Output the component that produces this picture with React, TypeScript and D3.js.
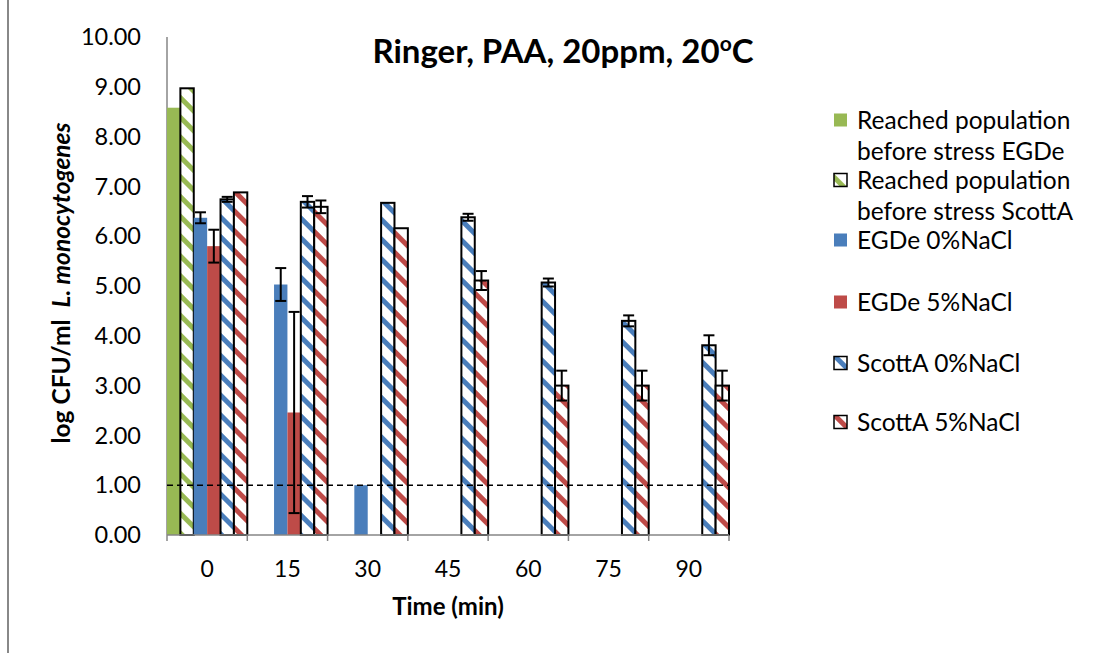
import React from "react";
import * as d3 from "d3";

const categories = ["0", "15", "30", "45", "60", "75", "90"];
const seriesNames = [
  "Reached population before stress EGDe",
  "Reached population before stress ScottA",
  "EGDe 0%NaCl",
  "EGDe 5%NaCl",
  "ScottA 0%NaCl",
  "ScottA 5%NaCl",
];
const egdeReached = [8.58, null, null, null, null, null, null];
const scottReached = [8.97, null, null, null, null, null, null];
const egde0 = [6.37, 5.03, 1.0, null, null, null, null];
const egde0Err = [0.11, 0.33, 0, 0, 0, 0, 0];
const egde5 = [5.8, 2.46, null, null, null, null, null];
const egde5Err = [0.33, 2.02, 0, 0, 0, 0, 0];
const scott0 = [6.74, 6.69, 6.67, 6.38, 5.07, 4.3, 3.81];
const scott0Err = [0.05, 0.115, 0, 0.07, 0.08, 0.11, 0.2];
const scott5 = [6.88, 6.59, 6.16, 5.11, 3.0, 3.0, 3.0];
const scott5Err = [0, 0.127, 0, 0.19, 0.3, 0.3, 0.3];
const yTicks = [0, 1, 2, 3, 4, 5, 6, 7, 8, 9, 10];
const detectionLimit = 1.0;

const GREEN = "#98B954";
const BLUE = "#4A7EBB";
const RED = "#BE4B48";

type Series = { name: string; values: (number | null)[]; err: number[]; color: string; hatched: boolean };
const series: Series[] = [
  { name: seriesNames[0], values: egdeReached, err: [0, 0, 0, 0, 0, 0, 0], color: GREEN, hatched: false },
  { name: seriesNames[1], values: scottReached, err: [0, 0, 0, 0, 0, 0, 0], color: GREEN, hatched: true },
  { name: seriesNames[2], values: egde0, err: egde0Err, color: BLUE, hatched: false },
  { name: seriesNames[3], values: egde5, err: egde5Err, color: RED, hatched: false },
  { name: seriesNames[4], values: scott0, err: scott0Err, color: BLUE, hatched: true },
  { name: seriesNames[5], values: scott5, err: scott5Err, color: RED, hatched: true },
];

const FONT = "Lato, 'Open Sans', sans-serif";

export default function App() {
  const W = 1105, H = 653;
  const x0 = 167, x1 = 729, yBottom = 535, yTop = 37;
  const x = d3.scaleBand<string>().domain(categories).range([x0, x1]).paddingInner(0).paddingOuter(0);
  const xs = d3.scaleBand<number>().domain(d3.range(series.length)).range([0, x.bandwidth()]).padding(0);
  const y = d3.scaleLinear().domain([0, 10]).range([yBottom, yTop]);
  const bw = xs.bandwidth();
  const tickEdges = [...categories.map((c) => x(c) as number), x1];

  const legendMarkerX = 834;
  const legendTextX = 857;
  const legendRows: { lines: string[]; y: number }[] = [
    { lines: ["Reached population", "before stress EGDe"], y: 120 },
    { lines: ["Reached population", "before stress ScottA"], y: 180 },
    { lines: ["EGDe 0%NaCl"], y: 240 },
    { lines: ["EGDe 5%NaCl"], y: 302 },
    { lines: ["ScottA 0%NaCl"], y: 363 },
    { lines: ["ScottA 5%NaCl"], y: 422 },
  ];

  const patId = (c: string) => "hatch-" + c.replace("#", "");
  const P = 14;

  return (
    <svg width={W} height={H} style={{ position: "absolute", left: 0, top: 0, background: "#fff" }}>
      <defs>
        {[GREEN, BLUE, RED].map((c) => (
          <pattern key={c} id={patId(c)} patternUnits="userSpaceOnUse" width={P} height={P} patternTransform="rotate(-45)">
            <rect width={P} height={P} fill="#fff" />
            <rect x={0} y={0} width={5} height={P} fill={c} />
          </pattern>
        ))}
      </defs>
      <rect x={0} y={0} width={W} height={H} fill="#fff" />
      <line x1={8} y1={0} x2={8} y2={H} stroke="#888" strokeWidth={2} />

      {/* title */}
      <text x={563} y={63} textAnchor="middle" fontFamily={FONT} fontWeight="bold" fontSize={33} fill="#000">
        Ringer, PAA, 20ppm, 20<tspan fontSize={21} dy={-12}>o</tspan><tspan dy={12}>C</tspan>
      </text>

      {/* y axis */}
      <line x1={x0} y1={yTop} x2={x0} y2={yBottom} stroke="#868686" strokeWidth={1.5} />
      {yTicks.map((t) => (
        <text key={t} x={141} y={y(t)} dy="0.35em" textAnchor="end" fontFamily={FONT} fontSize={23.5} fill="#000">
          {t.toFixed(2)}
        </text>
      ))}
      <text transform={`translate(61,283) rotate(-90)`} textAnchor="middle" dy="0.35em" fontFamily={FONT} fontWeight="bold" fontSize={24.5} fill="#000">
        log CFU/ml <tspan dx={6} fontStyle="italic">L. monocytogenes</tspan>
      </text>

      {/* bars */}
      {series.map((s, si) =>
        s.values.map((v, ci) => {
          if (v === null) return null;
          const bx = (x(categories[ci]) as number) + (xs(si) as number);
          const by = y(v);
          return (
            <rect
              key={`${si}-${ci}`}
              x={bx}
              y={by}
              width={bw}
              height={yBottom - by}
              fill={s.hatched ? `url(#${patId(s.color)})` : s.color}
              stroke={s.hatched ? "#000" : "none"}
              strokeWidth={s.hatched ? 2 : 0}
            />
          );
        })
      )}

      {/* error bars */}
      {series.map((s, si) =>
        s.values.map((v, ci) => {
          if (v === null || !s.err[ci]) return null;
          const cx = (x(categories[ci]) as number) + (xs(si) as number) + bw / 2;
          const yt = y(v + s.err[ci]);
          const yb = y(Math.max(0, v - s.err[ci]));
          const cw = 5.5;
          return (
            <g key={`e${si}-${ci}`} stroke="#000" strokeWidth={2}>
              <line x1={cx} x2={cx} y1={yt} y2={yb} />
              <line x1={cx - cw} x2={cx + cw} y1={yt} y2={yt} />
              <line x1={cx - cw} x2={cx + cw} y1={yb} y2={yb} />
            </g>
          );
        })
      )}

      {/* detection limit */}
      <line x1={x0} x2={x1} y1={y(detectionLimit)} y2={y(detectionLimit)} stroke="#000" strokeWidth={1.5} strokeDasharray="6,4" />

      {/* x axis */}
      <line x1={x0} y1={yBottom} x2={x1} y2={yBottom} stroke="#868686" strokeWidth={1.5} />
      {tickEdges.map((tx, i) => (
        <line key={i} x1={tx} x2={tx} y1={yBottom} y2={yBottom + 6} stroke="#868686" strokeWidth={1.5} />
      ))}
      {categories.map((c) => (
        <text key={c} x={(x(c) as number) + x.bandwidth() / 2} y={569} dy="0.35em" textAnchor="middle" fontFamily={FONT} fontSize={23} fill="#000">
          {c}
        </text>
      ))}
      <text x={448} y={607} dy="0.35em" textAnchor="middle" fontFamily={FONT} fontWeight="bold" fontSize={24} fill="#000">
        Time (min)
      </text>

      {/* legend */}
      {legendRows.map((r, i) => {
        const s = series[i];
        return (
          <g key={i}>
            <rect
              x={legendMarkerX}
              y={r.y - 6.5}
              width={13}
              height={13}
              fill={s.hatched ? `url(#${patId(s.color)})` : s.color}
              stroke={s.hatched ? "#000" : "none"}
              strokeWidth={s.hatched ? 1.5 : 0}
            />
            {r.lines.map((ln, li) => (
              <text key={li} x={legendTextX} y={r.y + li * 31} dy="0.35em" fontFamily={FONT} fontSize={24.5} fill="#000">
                {ln}
              </text>
            ))}
          </g>
        );
      })}
    </svg>
  );
}
